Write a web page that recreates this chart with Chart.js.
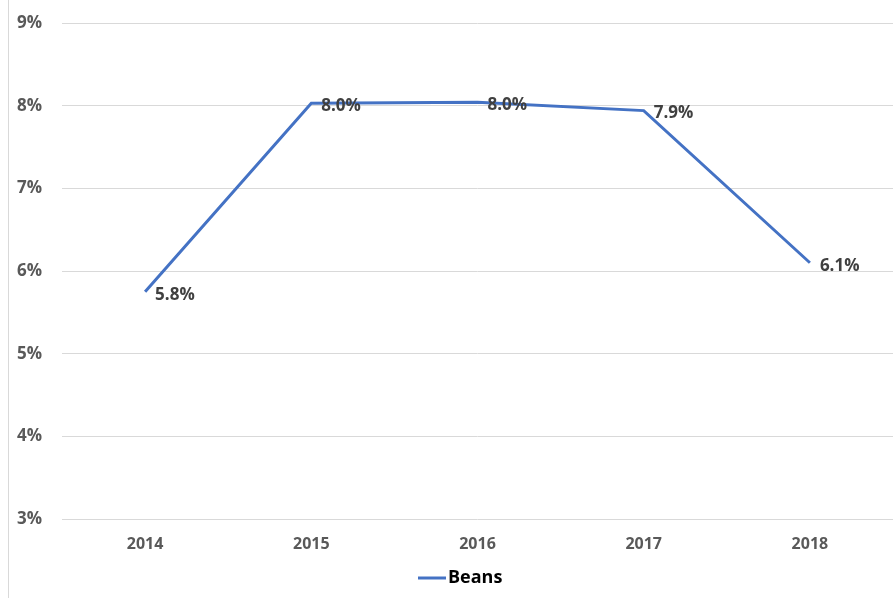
<!DOCTYPE html>
<html>
<head>
<meta charset="utf-8">
<script src="https://cdn.jsdelivr.net/npm/chart.js@4.4.0/dist/chart.umd.min.js"></script>
<style>
  html, body { margin: 0; padding: 0; background: #fff; }
  #wrap { width: 894px; height: 598px; }
</style>
</head>
<body>
<div id="wrap"><canvas id="chart"></canvas></div>
<script>
const years = ['2014', '2015', '2016', '2017', '2018'];
const beans = [5.75, 8.03, 8.04, 7.94, 6.1];
const yTicks = [3, 4, 5, 6, 7, 8, 9];

const FONT = '"Open Sans", Calibri, sans-serif';
const BLUE = '#4472c4';

// value labels to the right of each point
const valueLabels = {
  id: 'valueLabels',
  afterDatasetsDraw(chart) {
    const ctx = chart.ctx;
    const meta = chart.getDatasetMeta(0);
    ctx.save();
    ctx.font = 'bold 17px ' + FONT;
    ctx.fillStyle = '#404040';
    ctx.textAlign = 'left';
    ctx.textBaseline = 'middle';
    meta.data.forEach((pt, i) => {
      ctx.fillText(beans[i].toFixed(1) + '%', pt.x + 10, pt.y + 3);
    });
    ctx.restore();
  }
};

// thin frame line on the left side
const frame = {
  id: 'frame',
  beforeDraw(chart) {
    const ctx = chart.ctx;
    ctx.save();
    ctx.strokeStyle = '#d9d9d9';
    ctx.lineWidth = 1;
    ctx.beginPath();
    ctx.moveTo(8.5, 0);
    ctx.lineTo(8.5, chart.height);
    ctx.stroke();
    ctx.restore();
  }
};

// compact legend: short line sample right next to the series name
const lineLegend = {
  id: 'lineLegend',
  afterDraw(chart) {
    const ctx = chart.ctx;
    const ds = chart.data.datasets[0];
    const y = chart.chartArea.bottom + 59;
    const x0 = chart.width / 2 - 29;
    ctx.save();
    ctx.strokeStyle = ds.borderColor;
    ctx.lineWidth = 3;
    ctx.beginPath();
    ctx.moveTo(x0, y);
    ctx.lineTo(x0 + 28, y);
    ctx.stroke();
    ctx.font = 'bold 18px ' + FONT;
    ctx.fillStyle = '#000';
    ctx.textAlign = 'left';
    ctx.textBaseline = 'middle';
    ctx.fillText(ds.label, x0 + 30, y);
    ctx.restore();
  }
};

new Chart(document.getElementById('chart'), {
  type: 'line',
  data: {
    labels: years,
    datasets: [{
      label: 'Beans',
      data: beans,
      borderColor: BLUE,
      backgroundColor: BLUE,
      borderWidth: 3,
      pointRadius: 0,
      pointHoverRadius: 0,
      tension: 0
    }]
  },
  options: {
    responsive: true,
    maintainAspectRatio: false,
    animation: false,
    layout: { padding: { left: 0, right: 1, top: 23, bottom: 39 } },
    plugins: {
      tooltip: { enabled: false },
      legend: { display: false }
    },
    scales: {
      x: {
        offset: true,
        grid: { display: false, drawTicks: false },
        border: { display: false },
        afterFit(axis) { axis.height = 40; },
        ticks: {
          color: '#595959',
          padding: 16,
          font: { family: FONT, size: 16, weight: 'bold' }
        }
      },
      y: {
        min: 3,
        max: 9,
        afterBuildTicks(axis) { axis.ticks = yTicks.map(v => ({ value: v })); },
        afterFit(axis) {
          axis.width = 62;
          axis.paddingTop = 0;
          axis.paddingBottom = 0;
        },
        grid: { color: '#d9d9d9', drawTicks: false },
        border: { display: false },
        ticks: {
          color: '#595959',
          padding: 20,
          callback: v => v + '%',
          font: { family: FONT, size: 17, weight: 'bold' }
        }
      }
    }
  },
  plugins: [valueLabels, frame, lineLegend]
});
</script>
</body>
</html>
